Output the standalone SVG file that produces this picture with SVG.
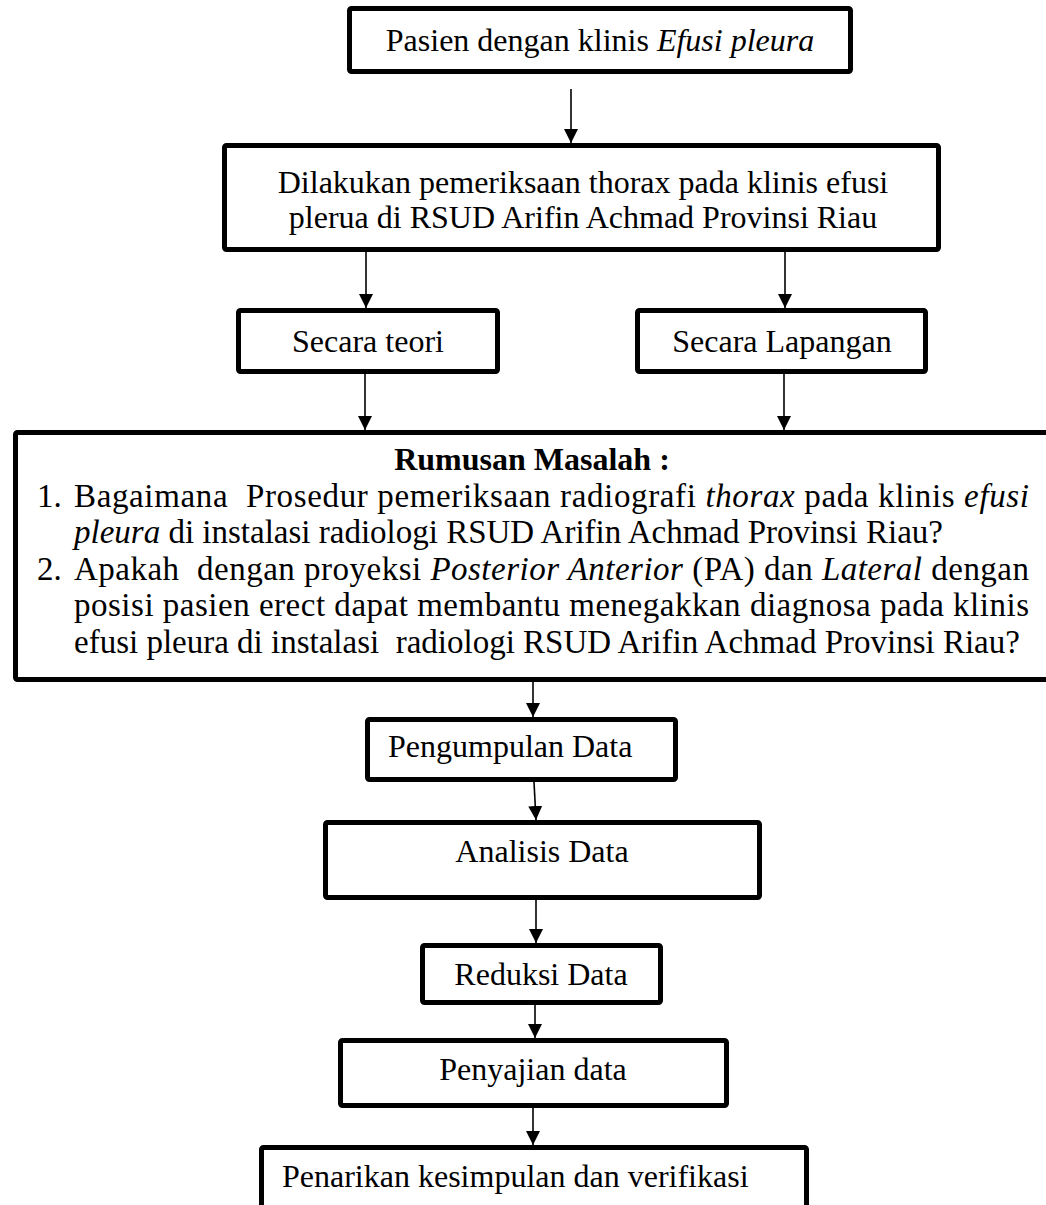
<svg xmlns="http://www.w3.org/2000/svg" width="1046" height="1205" viewBox="0 0 1046 1205">
<defs>
<style>
.box{fill:#fff;stroke:#000;stroke-width:5;stroke-linejoin:round}
.t{font-family:"Liberation Serif","Times New Roman",serif;font-size:32px;fill:#000;white-space:pre}
.m{text-anchor:middle}
.l{font-size:33px}
.b{font-weight:bold}
.i{font-style:italic}
.c{stroke:#000;stroke-width:1.6;fill:none;marker-end:url(#ah)}
</style>
<marker id="ah" markerUnits="userSpaceOnUse" markerWidth="16" markerHeight="16" refX="14" refY="7" orient="auto">
<path d="M0,0 L14,7 L0,14 z" fill="#000"/>
</marker>
</defs>
<rect width="1046" height="1205" fill="#fff"/>
<g id="connectors">
<line class="c" x1="571" y1="89" x2="571" y2="143"/>
<line class="c" x1="366" y1="252" x2="366" y2="308"/>
<line class="c" x1="785" y1="252" x2="785" y2="308"/>
<line class="c" x1="365" y1="374" x2="365" y2="430"/>
<line class="c" x1="784" y1="374" x2="784" y2="430"/>
<line class="c" x1="533" y1="682" x2="533" y2="717"/>
<line class="c" x1="534" y1="782" x2="536" y2="820"/>
<line class="c" x1="536" y1="900" x2="536" y2="943"/>
<line class="c" x1="535" y1="1005" x2="535" y2="1038"/>
<line class="c" x1="533" y1="1106" x2="533" y2="1145"/>
</g>
<g id="n1">
<rect class="box" x="349.5" y="8.5" width="501" height="63" rx="2"/>
<text class="t m" x="600" y="51">Pasien dengan klinis <tspan class="i">Efusi pleura</tspan></text>
</g>
<g id="n2">
<rect class="box" x="224.5" y="145.5" width="714" height="104" rx="2"/>
<text class="t m" x="583" y="193">Dilakukan pemeriksaan thorax pada klinis efusi</text>
<text class="t m" x="583" y="228">plerua di RSUD Arifin Achmad Provinsi Riau</text>
</g>
<g id="n3">
<rect class="box" x="238.5" y="310.5" width="259" height="61" rx="2"/>
<text class="t m" x="368" y="352">Secara teori</text>
</g>
<g id="n4">
<rect class="box" x="637.5" y="310.5" width="288" height="61" rx="2"/>
<text class="t m" x="782" y="352">Secara Lapangan</text>
</g>
<g id="n5">
<rect class="box" x="15.5" y="432.5" width="1050" height="247" rx="2"/>
<text class="t m b" x="532" y="470">Rumusan Masalah :</text>
<text class="t l" x="37" y="507">1.</text>
<text class="t l" x="74" y="507" textLength="955">Bagaimana  Prosedur pemeriksaan radiografi <tspan class="i">thorax</tspan> pada klinis <tspan class="i">efusi</tspan></text>
<text class="t l" x="74" y="543"><tspan class="i">pleura</tspan> di instalasi radiologi RSUD Arifin Achmad Provinsi Riau?</text>
<text class="t l" x="37" y="580">2.</text>
<text class="t l" x="74" y="580" textLength="955">Apakah  dengan proyeksi <tspan class="i">Posterior Anterior</tspan> (PA) dan <tspan class="i">Lateral</tspan> dengan</text>
<text class="t l" x="74" y="616" textLength="955">posisi pasien erect dapat membantu menegakkan diagnosa pada klinis</text>
<text class="t l" x="74" y="653">efusi pleura di instalasi  radiologi RSUD Arifin Achmad Provinsi Riau?</text>
</g>
<g id="n6">
<rect class="box" x="367.5" y="719.5" width="308" height="60" rx="2"/>
<text class="t" x="388" y="757">Pengumpulan Data</text>
</g>
<g id="n7">
<rect class="box" x="325.5" y="822.5" width="434" height="75" rx="2"/>
<text class="t m" x="542" y="862">Analisis Data</text>
</g>
<g id="n8">
<rect class="box" x="422.5" y="945.5" width="238" height="57" rx="2"/>
<text class="t m" x="541" y="985">Reduksi Data</text>
</g>
<g id="n9">
<rect class="box" x="340.5" y="1040.5" width="386" height="65" rx="2"/>
<text class="t m" x="533" y="1080">Penyajian data</text>
</g>
<g id="n10">
<rect class="box" x="261.5" y="1147.5" width="545" height="70" rx="2"/>
<text class="t" x="282" y="1187">Penarikan kesimpulan dan verifikasi</text>
</g>
</svg>
